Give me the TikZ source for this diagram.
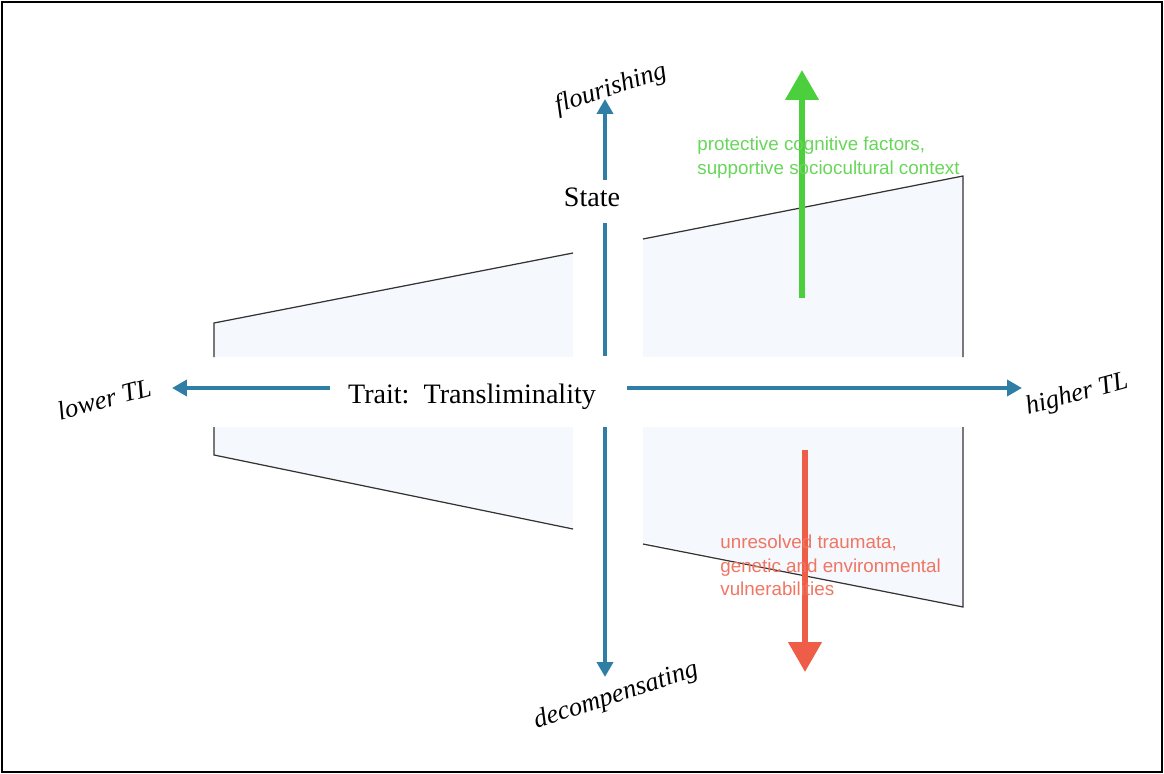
\documentclass[tikz,border=0pt]{standalone}
\usepackage{fontspec}
\setmainfont{Liberation Serif}
\newfontfamily\helv{Liberation Sans}
\usetikzlibrary{arrows.meta}

\definecolor{axisblue}{HTML}{2E7EA6}
\definecolor{goodgreen}{HTML}{4CCF3C}
\definecolor{badred}{HTML}{EE5D48}
\definecolor{panefill}{HTML}{F5F8FC}

\tikzset{
	axis/.style={draw=axisblue,line width=2.2pt,-{Triangle[length=3mm,width=3.2mm]}},
	axisline/.style={draw=axisblue,line width=2.2pt},
	edge/.style={draw=black!80,line width=0.7pt},
	pole/.style={font=\fontsize{15}{18}\selectfont\itshape,inner sep=0pt},
	lbl/.style={font=\fontsize{16}{19}\selectfont,inner sep=0pt},
	note/.style={font=\helv\fontsize{10.7}{13.2}\selectfont,align=left,inner sep=0pt,anchor=north west}
}

\begin{document}
\begin{tikzpicture}[x=0.02cm,y=-0.02cm]
	%Frame
	\useasboundingbox (0,0) rectangle (1164,774);
	\draw [line width=1.2pt] (2,2) rectangle (1162,772);

	%Shaded pane with white bands along the axes
	\fill [panefill] (214,323) -- (963,176) -- (963,607) -- (214,455) -- cycle;
	\fill [white] (573,150) rectangle (643,640);
	\fill [white] (150,357) rectangle (1040,427);

	%Pane edges
	\draw [edge] (214,357) -- (214,323) -- (573,253);
	\draw [edge] (643,239) -- (963,176) -- (963,357);
	\draw [edge] (214,427) -- (214,455) -- (573,529);
	\draw [edge] (643,544) -- (963,607) -- (963,427);

	%State axis
	\node [lbl] (state) at (592,197) {State};
	\coordinate (vtop) at (605,99);
	\coordinate (vstem) at (605,180);
	\coordinate (vmid) at (605,223);
	\coordinate (vmidend) at (605,356);
	\coordinate (vlow) at (605,427);
	\coordinate (vbot) at (605,677);
	\draw [axis] (vstem) to (vtop);
	\draw [axisline] (vmid) to (vmidend);
	\draw [axis] (vlow) to (vbot);
	\node [pole,rotate=18] (flour) at (611,89) {flourishing};
	\node [pole,rotate=18] (decomp) at (616,696) {decompensating};

	%Trait axis
	\node [lbl] (trait) at (472,397) {Trait:\ \ Transliminality};
	\coordinate (hleft) at (172,388);
	\coordinate (hlstart) at (330,388);
	\coordinate (hrstart) at (627,388);
	\coordinate (hright) at (1022,388);
	\draw [axis] (hlstart) to (hleft);
	\draw [axis] (hrstart) to (hright);
	\node [pole,rotate=15] (lower) at (104,399) {lower TL};
	\node [pole,rotate=15] (higher) at (1077,395) {higher TL};

	%Protective factors
	\coordinate (gbase) at (802,298);
	\coordinate (gtip) at (802,70);
	\draw [draw=goodgreen,line width=3.4pt,-{Triangle[length=6mm,width=6.5mm]}] (gbase) to (gtip);
	\node [note,text=goodgreen!85!white] (protect) at (697,137) {protective cognitive factors,\\supportive sociocultural context};

	%Vulnerabilities
	\coordinate (rbase) at (805,450);
	\coordinate (rtip) at (805,672);
	\draw [draw=badred,line width=3.4pt,-{Triangle[length=6mm,width=6.5mm]}] (rbase) to (rtip);
	\node [note,text=badred!85!white] (vuln) at (720,535) {unresolved traumata,\\genetic and environmental\\vulnerabilities};
\end{tikzpicture}
\end{document}
